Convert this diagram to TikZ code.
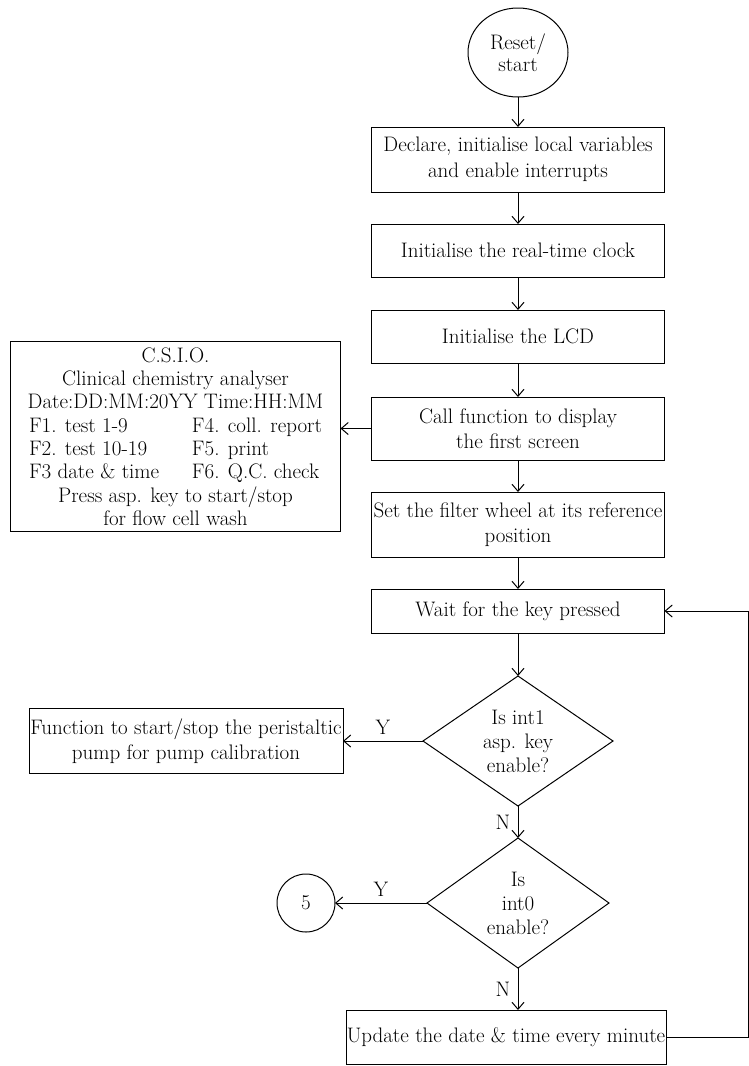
\documentclass[tikz,border=0pt]{standalone}
\usepackage{tikz}
\usetikzlibrary{shapes, arrows, positioning, fit, calc, arrows.meta}

\newcommand{\keyrow}[2]{\makebox[163pt][l]{#1}\makebox[130pt][l]{#2}}

\begin{document}
\begin{tikzpicture}[x=1pt, y=-1pt, >={Straight Barb[length=7pt, width=12pt]},
  every node/.style={font=\fontsize{21}{25.5}\selectfont},
  procbox/.style={draw, line width=1pt, outer sep=0pt, minimum width=293pt, align=center, inner sep=3pt},
  decide/.style={draw, line width=1pt, outer sep=0pt, diamond, aspect=1.46, minimum width=190pt, minimum height=130pt,
                 inner sep=0pt, align=center, font=\fontsize{21}{24}\selectfont},
  every path/.style={line width=1pt}]
  \useasboundingbox (0,0) rectangle (749,1066);

  \node[draw, ellipse, outer sep=0pt, minimum width=100pt, minimum height=89pt, inner sep=0pt, align=center,
        font=\fontsize{21}{22}\selectfont] (start) at (518,52.5) {Reset/\\start};
  \node[procbox, minimum height=65pt, below=30pt of start] (declare) {Declare, initialise local variables\\and enable interrupts};
  \node[procbox, minimum height=53pt, below=32pt of declare] (rtc) {Initialise the real-time clock};
  \node[procbox, minimum height=53pt, below=33pt of rtc] (lcd) {Initialise the LCD};
  \node[procbox, minimum height=63pt, below=34pt of lcd] (call) {Call function to display\\the first screen};
  \node[procbox, minimum height=65pt, below=32pt of call, inner xsep=0pt] (filter) {Set the filter wheel at its reference\\position};
  \node[procbox, minimum height=44pt, below=32pt of filter] (wait) {Wait for the key pressed};
  \node[decide, below=43pt of wait] (int1) {Is int1\\asp. key\\enable?};
  \node[decide, below=32pt of int1, minimum width=182pt] (int0) {Is\\int0\\enable?};
  \node[procbox, minimum width=320pt, minimum height=54pt, inner xsep=0pt, below=42pt of int0, xshift=-12pt] (update) {Update the date \& time every minute};

  % side nodes
  \node[draw, line width=1pt, outer sep=0pt, minimum width=330pt, minimum height=190pt, inner sep=1pt, align=center,
        font=\fontsize{21}{23.3}\selectfont, left=31pt of call, yshift=-8pt] (screen)
    {C.S.I.O.\\Clinical chemistry analyser\\Date:DD:MM:20YY Time:HH:MM\\
     \keyrow{F1. test 1-9}{F4. coll. report}\\
     \keyrow{F2. test 10-19}{F5. print}\\
     \keyrow{F3 date \& time}{F6. Q.C. check}\\
     Press asp. key to start/stop\\for flow cell wash};
  \node[procbox, minimum width=314pt, minimum height=65pt, inner xsep=0pt, left=80pt of int1] (pump) {Function to start/stop the peristaltic\\pump for pump calibration};
  \node[draw, circle, outer sep=0pt, minimum size=58pt, inner sep=0pt, left=92pt of int0] (five) {5};
  \coordinate[right=82pt of update.east] (back);

  \draw[->] (start) -- (declare);
  \draw[->] (declare) -- (rtc);
  \draw[->] (rtc) -- (lcd);
  \draw[->] (lcd) -- (call);
  \draw[->] (call) -- (filter);
  \draw[->] (filter) -- (wait);
  \draw[->] (wait) -- (int1);
  \draw[->] (call.west) -- (screen.east |- call.west);
  \draw[->] (int1) -- node[above=3pt] {Y} (pump);
  \draw[->] (int1) -- node[left=4pt] {N} (int0);
  \draw[->] (int0) -- node[above=3pt] {Y} (five);
  \draw[->] (int0.south) -- node[left=4pt] {N} (int0.south |- update.north);
  \draw[->] (update.east) -- (back) |- (wait.east);
\end{tikzpicture}
\end{document}
